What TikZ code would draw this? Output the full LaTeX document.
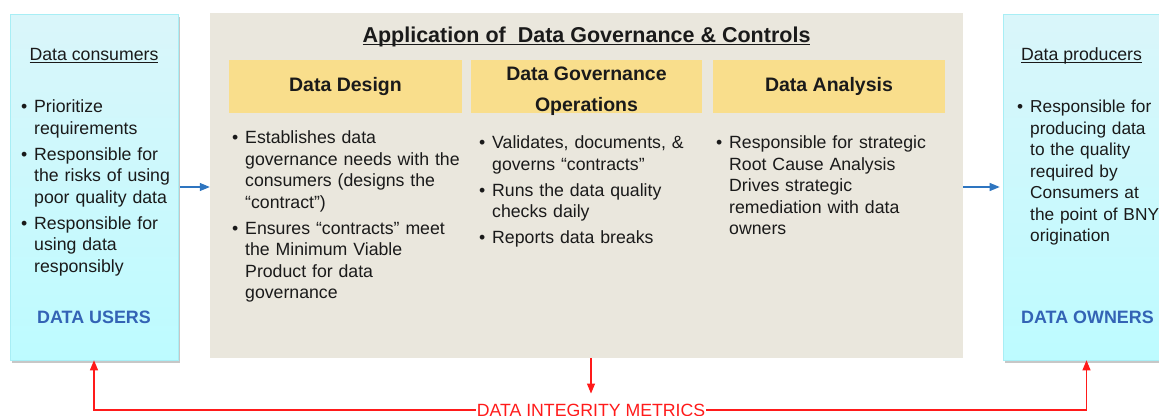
\documentclass[tikz,border=0pt]{standalone}
\usepackage{fontspec}
\setmainfont{Liberation Sans}
\usetikzlibrary{arrows.meta,shadows}
\definecolor{beige}{HTML}{EAE7DD}
\definecolor{hdr}{HTML}{F9DE8C}
\definecolor{cytop}{HTML}{DAF6FA}
\definecolor{cybot}{HTML}{BDFBFF}
\definecolor{cyedge}{HTML}{A8EEF5}
\definecolor{ublue}{HTML}{3363B5}
\definecolor{ablue}{HTML}{2E75C0}
\definecolor{txt}{HTML}{1A1A1A}
\definecolor{mred}{HTML}{FF1A1A}
\newlength\bind \setlength\bind{13pt}
\newcommand\bitem[1]{\par\noindent\hangindent=\bind\hangafter=1\makebox[\bind][l]{\strut\textbullet}#1\par}
\newcommand\bgap{\vspace{4.5pt}}
\newcommand\myul[1]{\leavevmode\setbox0=\hbox{#1}\rlap{\rule[-2.9pt]{\wd0}{1.1pt}}\box0}
\begin{document}
\begin{tikzpicture}[x=1pt,y=-1pt,
  body/.style={font=\fontsize{17.7}{21.5}\selectfont, text=txt, inner sep=0pt},
  list/.style={body, anchor=north west, align=left, text width=#1},
  role/.style={draw=cyedge, line width=0.6pt, top color=cytop, bottom color=cybot,
    drop shadow={shadow xshift=2pt,shadow yshift=-3pt,opacity=0.22,fill=black},
    minimum height=346pt, inner sep=0pt},
  hdbox/.style={fill=hdr, minimum height=53pt, inner sep=0pt,
    font=\fontsize{19.5}{23}\selectfont\bfseries, text=txt},
  lbl/.style={font=\fontsize{17.9}{21.5}\selectfont\bfseries, text=ublue, anchor=base, inner sep=0pt},
  bluearr/.style={draw=ablue, line width=1.1pt, -{Triangle[length=10pt,width=8pt]}},
  redarr/.style={draw=mred, line width=1.1pt, -{Triangle[length=10pt,width=8pt]}}
]
\useasboundingbox (0,0) rectangle (1159,415);
% boxes
\node[role, minimum width=168pt] (cons) at (94,187) {};
\node[role, minimum width=167pt] (prod) at (1086.5,187) {};
\node[fill=beige, minimum width=753pt, minimum height=345pt, inner sep=0pt] (app) at (586.5,185.5) {};
\node[hdbox, minimum width=233pt] (hd1) at (345.5,86.5) {Data Design};
\node[hdbox, minimum width=231pt] (hd2) at (586.5,86.5) {};
\node[hdbox, minimum width=232pt] (hd3) at (829,86.5) {Data Analysis};
\node[font=\fontsize{19.5}{31}\selectfont\bfseries, text=txt, align=center, anchor=north, inner sep=0pt] (dgo) at (586.5,58.3) {\strut Data Governance\\Operations};
% title
\node[font=\fontsize{21.5}{25}\selectfont\bfseries, text=txt, anchor=base, inner sep=0pt] (title) at (586.5,42) {\myul{Application of\ \ Data Governance \& Controls}};
% left box
\node[body, anchor=base] (ctitle) at (94,60) {\myul{Data consumers}};
\node[list=165pt] (clist) at (21,91) {%
  \bitem{Prioritize\newline requirements}\bgap
  \bitem{Responsible for\newline the risks of using\newline poor quality data}\bgap
  \bitem{Responsible for\newline using data\newline responsibly}};
\node[lbl] (users) at (94,323) {DATA USERS};
% right box
\node[body, anchor=base] (ptitle) at (1081.5,60) {\myul{Data producers}};
\node[list=160pt, font=\fontsize{17.3}{21.5}\selectfont] (plist) at (1017,91) {%
  \bitem{Responsible for\newline producing data\newline to the quality\newline required by\newline Consumers at\newline the point of BNY\newline origination}};
\node[lbl] (owners) at (1087.5,323) {DATA OWNERS};
% middle lists
\node[list=238pt] (ddlist) at (232,122) {%
  \bitem{Establishes data\newline governance needs with the\newline consumers (designs the\newline “contract”)}\bgap
  \bitem{Ensures “contracts” meet\newline the Minimum Viable\newline Product for data\newline governance}};
\node[list=225pt] (dgolist) at (479,127) {%
  \bitem{Validates, documents, \&\newline governs “contracts”}\bgap
  \bitem{Runs the data quality\newline checks daily}\bgap
  \bitem{Reports data breaks}};
\node[list=240pt] (dalist) at (716,127) {%
  \bitem{Responsible for strategic\newline Root Cause Analysis\newline Drives strategic\newline remediation with data\newline owners}};
% metrics
\node[font=\fontsize{17.7}{21.5}\selectfont, text=mred, inner sep=1pt] (metrics) at (591,410) {DATA INTEGRITY METRICS};
% connectors
\draw[bluearr, shorten <=2pt] (cons.east) -- (cons.east -| app.west);
\draw[bluearr, shorten >=3pt] (prod.west -| app.east) -- (prod.west);
\draw[redarr, shorten >=9pt] (metrics.north |- app.south) -- (metrics.north);
\draw[redarr] (metrics.west) -| (cons.south);
\draw[redarr] (metrics.east) -| (prod.south);
\end{tikzpicture}
\end{document}
